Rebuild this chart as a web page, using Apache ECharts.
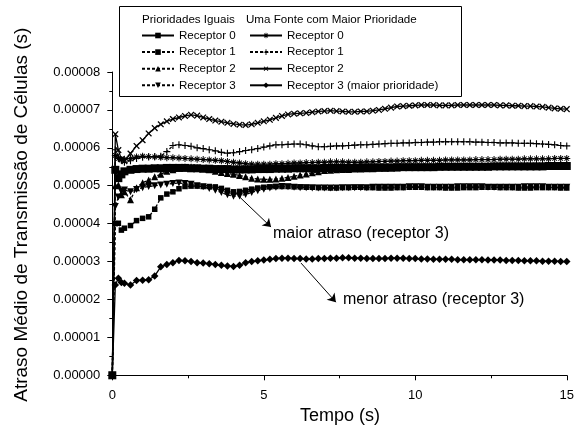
<!DOCTYPE html>
<html><head><meta charset="utf-8">
<script src="https://cdn.jsdelivr.net/npm/echarts@6/dist/echarts.min.js"></script>
<style>html,body{margin:0;padding:0;background:#fff}#c{width:577px;height:431px}</style>
</head><body><div id="c"></div>
<script>
// time (s)
const T = [0,0.1,0.2,0.3,0.4,0.6,0.8,
1,1.2,1.4,1.6,1.8, 2,2.2,2.4,2.6,2.8, 3,3.2,3.4,3.6,3.8, 4,4.2,4.4,4.6,4.8,
5,5.2,5.4,5.6,5.8, 6,6.2,6.4,6.6,6.8, 7,7.2,7.4,7.6,7.8, 8,8.2,8.4,8.6,8.8,
9,9.2,9.4,9.6,9.8, 10,10.2,10.4,10.6,10.8, 11,11.2,11.4,11.6,11.8,
12,12.2,12.4,12.6,12.8, 13,13.2,13.4,13.6,13.8, 14,14.2,14.4,14.6,14.8, 15];
// delays in units of 1e-5 s
// Prioridades Iguais
const piR0 = [0,5.42,5.2,5.3,5.38,5.42,5.44,
5.45,5.45,5.46,5.46,5.47, 5.47,5.47,5.47,5.46,5.46, 5.45,5.45,5.44,5.44,5.44, 5.43,5.43,5.43,5.43,5.44,
5.44,5.44,5.45,5.45,5.45, 5.46,5.46,5.46,5.46,5.46, 5.47,5.47,5.47,5.47,5.47, 5.47,5.48,5.48,5.48,5.48,
5.48,5.48,5.49,5.49,5.49, 5.49,5.49,5.49,5.49,5.5, 5.5,5.5,5.5,5.5,5.5,
5.5,5.5,5.5,5.51,5.51, 5.51,5.51,5.51,5.51,5.51, 5.51,5.51,5.52,5.52,5.52, 5.52];
const piR1 = [0,4.0,4.01,3.83,3.88,3.95,4.08,
4.14,4.18,4.38,4.68,4.78, 4.84,4.92,4.98,4.99,4.99, 4.98,4.98,4.97,4.93,4.88, 4.84,4.85,4.88,4.91,4.94,
4.96,4.97,4.98,4.98,4.98, 4.97,4.97,4.96,4.96,4.95, 4.95,4.94,4.94,4.95,4.95, 4.96,4.96,4.95,4.95,4.94,
4.94,4.94,4.95,4.95,4.96, 4.96,4.96,4.95,4.95,4.95, 4.94,4.94,4.94,4.95,4.95,
4.95,4.96,4.96,4.96,4.95, 4.95,4.95,4.94,4.94,4.94, 4.95,4.95,4.95,4.95,4.94, 4.94];
const piR2 = [0,5.0,5.02,4.76,4.84,4.63,4.95,
5.08,5.15,5.24,5.3,5.38, 5.42,5.46,5.5,5.5,5.48, 5.45,5.42,5.38,5.35,5.32, 5.3,5.27,5.24,5.2,5.18,
5.17,5.17,5.18,5.2,5.22, 5.25,5.28,5.31,5.34,5.37, 5.4,5.41,5.42,5.43,5.43, 5.44,5.44,5.45,5.45,5.46,
5.46,5.47,5.47,5.48,5.48, 5.49,5.49,5.5,5.5,5.5, 5.51,5.51,5.51,5.52,5.52,
5.52,5.53,5.53,5.53,5.54, 5.54,5.54,5.55,5.55,5.55, 5.56,5.56,5.56,5.57,5.57, 5.57];
const piR3 = [0,4.45,4.7,4.85,4.89,4.84,4.9,
4.95,4.98,5.0,5.02,5.04, 5.06,5.07,5.06,5.04,5.0, 4.97,4.93,4.88,4.82,4.76, 4.72,4.73,4.77,4.82,4.87,
4.91,4.94,4.96,4.98,4.97, 4.96,4.95,4.95,4.94,4.94, 4.94,4.94,4.94,4.95,4.95, 4.95,4.95,4.95,4.96,4.96,
4.96,4.96,4.96,4.96,4.97, 4.97,4.97,4.96,4.96,4.96, 4.96,4.96,4.97,4.97,4.97,
4.97,4.97,4.96,4.96,4.96, 4.96,4.96,4.96,4.97,4.97, 4.97,4.97,4.96,4.96,4.96, 4.96];
// Uma Fonte com Maior Prioridade
const umpR0 = [0,5.8,5.72,5.68,5.7,5.72,5.76,
5.78,5.77,5.76,5.75,5.74, 5.74,5.73,5.72,5.71,5.7, 5.69,5.68,5.67,5.66,5.64, 5.62,5.6,5.58,5.57,5.57,
5.57,5.57,5.58,5.58,5.59, 5.6,5.6,5.61,5.61,5.62, 5.62,5.63,5.63,5.63,5.62, 5.62,5.62,5.63,5.63,5.64,
5.64,5.65,5.65,5.66,5.66, 5.66,5.67,5.67,5.67,5.67, 5.68,5.68,5.68,5.68,5.68,
5.69,5.69,5.69,5.69,5.7, 5.7,5.7,5.7,5.71,5.71, 5.71,5.71,5.71,5.72,5.72, 5.72];
const umpR1 = [0,5.95,5.75,5.68,5.62,5.66,5.72,
5.75,5.76,5.77,5.78,5.9, 6.06,6.08,6.06,6.04,6.0, 5.98,5.95,5.92,5.88,5.86, 5.87,5.9,5.93,5.95,5.98,
6.02,6.05,6.08,6.08,6.09, 6.1,6.1,6.08,6.05,6.03, 6.03,6.04,6.05,6.05,6.06, 6.07,6.08,6.08,6.09,6.1,
6.11,6.12,6.12,6.13,6.13, 6.14,6.14,6.15,6.15,6.16, 6.16,6.16,6.16,6.16,6.16,
6.15,6.15,6.14,6.14,6.13, 6.13,6.13,6.12,6.12,6.12, 6.11,6.1,6.09,6.08,6.06, 6.05];
const umpR2 = [0,6.36,5.94,5.7,5.65,5.85,6.05,
6.2,6.38,6.52,6.62,6.7, 6.76,6.8,6.84,6.87,6.85, 6.8,6.76,6.72,6.69,6.66, 6.63,6.61,6.6,6.62,6.66,
6.7,6.74,6.79,6.84,6.88, 6.9,6.91,6.92,6.94,6.96, 6.97,6.98,6.97,6.96,6.95, 6.95,6.96,6.96,6.98,7.0,
7.03,7.06,7.09,7.1,7.11, 7.12,7.13,7.13,7.13,7.12, 7.12,7.12,7.13,7.13,7.13,
7.13,7.13,7.13,7.13,7.12, 7.12,7.11,7.11,7.1,7.1, 7.09,7.08,7.06,7.04,7.03, 7.02];
const umpR3 = [0,2.38,2.56,2.45,2.43,2.38,2.5,
2.51,2.52,2.62,2.86,2.92, 2.97,3.03,3.02,3.0,2.97, 2.96,2.94,2.92,2.9,2.88, 2.87,2.9,2.97,3.0,3.02,
3.04,3.06,3.08,3.09,3.09, 3.08,3.08,3.07,3.07,3.08, 3.08,3.09,3.09,3.1,3.1, 3.09,3.09,3.08,3.08,3.08,
3.08,3.09,3.09,3.09,3.08, 3.08,3.07,3.07,3.06,3.06, 3.06,3.06,3.05,3.05,3.05,
3.05,3.05,3.04,3.04,3.04, 3.03,3.03,3.03,3.02,3.02, 3.02,3.01,3.01,3.01,3.0, 3.0];

const yTickLabels = ['0.00000','0.00001','0.00002','0.00003','0.00004','0.00005','0.00006','0.00007','0.00008'];
const xTickLabels = ['0','5','10','15'];
const piNames = ['Receptor 0','Receptor 1','Receptor 2','Receptor 3'];
const umpNames = ['Receptor 0','Receptor 1','Receptor 2','Receptor 3 (maior prioridade)'];
// annotation arrows [t0, v0, t1, v1]
const arrowMaior = [3.96, 4.89, 5.24, 3.91];
const arrowMenor = [6.23, 2.96, 7.38, 1.93];

const FONT = 'Liberation Sans, Arial, sans-serif';
const pts = arr => arr.map((v,i)=>[T[i], v]);
const PLUS = 'path://M4.2,0h1.6v4.2h4.2v1.6h-4.2v4.2h-1.6v-4.2h-4.2v-1.6h4.2z';
const STAR = 'path://M4.3,0h1.4v10h-1.4z M0,4.3h10v1.4h-10z M1.2,2.2L2.2,1.2L8.8,7.8L7.8,8.8z M7.8,1.2L8.8,2.2L2.2,8.8L1.2,7.8z';

function mk(name, data, symbol, size, dashed, rot, extra) {
  return Object.assign({
    type:'line', name, data: pts(data), symbol, symbolSize:size, symbolRotate: rot||0,
    clip:false, showSymbol:true, animation:false,
    lineStyle:{color:'#000', width:1.3, type: dashed ? [3,2] : 'solid'},
    itemStyle:{color:'#000', borderWidth:0}
  }, extra||{});
}

const series = [
  mk('PI:'+piNames[0], piR0, 'rect', 8, false),
  mk('PI:'+piNames[1], piR1, 'rect', 5.5, true),
  mk('PI:'+piNames[2], piR2, 'triangle', 7, true),
  mk('PI:'+piNames[3], piR3, 'triangle', 7, true, 180),
  mk('UMP:'+umpNames[0], umpR0, STAR, 7, false),
  mk('UMP:'+umpNames[1], umpR1, PLUS, 7, true),
  mk('UMP:'+umpNames[2], umpR2, PLUS, 8, false, 45),
  mk('UMP:'+umpNames[3], umpR3, 'diamond', 7.5, false, 0, {
    markLine:{silent:true, animation:false, symbol:['none','arrow'], symbolSize:8,
      lineStyle:{color:'#000', width:1, type:'solid'}, label:{show:false},
      data:[
        [{coord:[arrowMaior[0],arrowMaior[1]]},{coord:[arrowMaior[2],arrowMaior[3]]}],
        [{coord:[arrowMenor[0],arrowMenor[1]]},{coord:[arrowMenor[2],arrowMenor[3]]}]
      ]}
  })
];

const legendBase = {orient:'vertical', top:29, itemWidth:32, itemHeight:7, itemGap:3.6, padding:0,
  selectedMode:false, z:10, formatter: n => n.split(':')[1],
  textStyle:{fontSize:11.6, color:'#000', fontFamily:FONT, lineHeight:13}};

const chart = echarts.init(document.getElementById('c'), null, {renderer:'canvas'});
chart.setOption({
  animation:false,
  backgroundColor:'#fff',
  grid:{left:112.3, right:8, top:72, bottom:431-375.3, containLabel:false},
  xAxis:{type:'value', min:0, max:15, interval:5, offset:2.4,
    axisLine:{lineStyle:{color:'#000', width:1}},
    axisTick:{length:5, lineStyle:{color:'#000'}},
    minorTick:{show:true, splitNumber:2, length:3, lineStyle:{color:'#000'}},
    splitLine:{show:false},
    axisLabel:{color:'#000', fontSize:13, fontFamily:FONT, margin:11, formatter:v=>xTickLabels[v/5]}},
  yAxis:{type:'value', min:0, max:8, interval:1, offset:3,
    axisLine:{show:true, lineStyle:{color:'#000', width:1}},
    axisTick:{show:true, length:5, lineStyle:{color:'#000'}},
    minorTick:{show:true, splitNumber:2, length:3, lineStyle:{color:'#000'}},
    splitLine:{show:false},
    axisLabel:{color:'#000', fontSize:13, fontFamily:FONT, margin:9, formatter:v=>yTickLabels[v]}},
  legend:[
    Object.assign({}, legendBase, {left:141, data: piNames.map(n=>'PI:'+n)}),
    Object.assign({}, legendBase, {left:249, data: umpNames.map(n=>'UMP:'+n)})
  ],
  graphic:[
    {type:'rect', z:1, shape:{x:119.5, y:6.5, width:342, height:90}, style:{fill:'#fff', stroke:'#000', lineWidth:1}},
    {type:'text', z:11, x:142, y:20, style:{text:'Prioridades Iguais', font:'11.6px '+FONT, fill:'#000', textVerticalAlign:'middle'}},
    {type:'text', z:11, x:246, y:20, style:{text:'Uma Fonte com Maior Prioridade', font:'11.6px '+FONT, fill:'#000', textVerticalAlign:'middle'}},
    {type:'text', z:11, x:273, y:234, style:{text:'maior atraso (receptor 3)', font:'16px '+FONT, fill:'#000', textVerticalAlign:'middle'}},
    {type:'text', z:11, x:343, y:300, style:{text:'menor atraso (receptor 3)', font:'16px '+FONT, fill:'#000', textVerticalAlign:'middle'}},
    {type:'text', z:11, x:340, y:416, style:{text:'Tempo (s)', font:'18px '+FONT, fill:'#000', textAlign:'center', textVerticalAlign:'middle'}},
    {type:'text', z:11, x:21.7, y:214.7, rotation:Math.PI/2, style:{text:'Atraso Médio de Transmissão de Células (s)', font:'19px '+FONT, fill:'#000', textAlign:'center', textVerticalAlign:'middle'}}
  ],
  series
});
</script></body></html>
